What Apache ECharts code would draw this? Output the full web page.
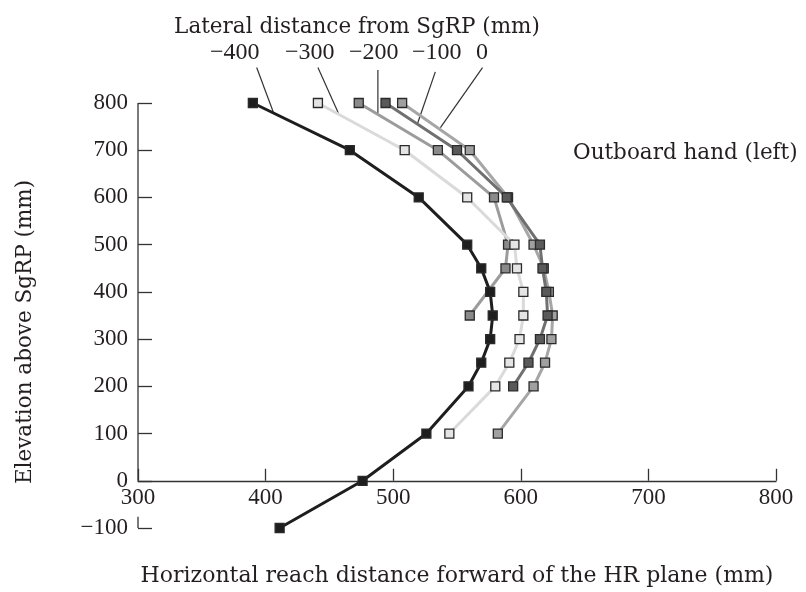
<!DOCTYPE html>
<html>
<head>
<meta charset="utf-8">
<script src="https://cdn.jsdelivr.net/npm/echarts@6/dist/echarts.min.js"></script>
<style>
html,body{margin:0;padding:0;background:#fff;}
#chart{width:806px;height:592px;}
</style>
</head>
<body>
<div id="chart"></div>
<script>
// Data: [horizontal reach (mm), elevation (mm)]
var seriesNames = ['\u2212400', '\u2212300', '\u2212200', '\u2212100', '0'];
var reachM400 = [[390,800],[466,700],[520,600],[558,500],[569,450],[576,400],[578,350],[576,300],[569,250],[559,200],[526,100],[476,0],[411,-100]];
var reachM300 = [[441,800],[509,700],[558,600],[595,500],[597,450],[602,400],[602,350],[599,300],[591,250],[580,200],[544,100]];
var reachM200 = [[473,800],[535,700],[579,600],[590,500],[588,450],[560,350]];
var reachM100 = [[494,800],[550,700],[589,600],[615,500],[617,450],[620,400],[621,350],[615,300],[606,250],[594,200]];
var reach0    = [[507,800],[560,700],[590,600],[610,500],[618,450],[622,400],[625,350],[624,300],[619,250],[610,200],[582,100]];

var xTicks = [300, 400, 500, 600, 700, 800];
var yTicks = [-100, 0, 100, 200, 300, 400, 500, 600, 700, 800];

// leader lines from the lateral-distance labels to each curve (data coords)
var leaderM400 = [[393,875],[406,781]];
var leaderM300 = [[441,875],[457,779]];
var leaderM200 = [[488,870],[488,779]];
var leaderM100 = [[533,866],[519,756]];
var leader0    = [[570,875],[537,748]];

// broken y-axis line pieces
var yAxisMain = [[300,0],[300,800]];
var yAxisStub = [[300,-100],[300,-76]];

var NUMFONT = 'Liberation Serif';
var TXTFONT = 'DejaVu Serif';
var TXT = '#231f20';

function curve(name, data, lineColor, fillColor, width, z) {
  return {
    name: name, type: 'line', data: data, z: z,
    symbol: 'rect', symbolSize: 9,
    lineStyle: {color: lineColor, width: width},
    itemStyle: {color: fillColor, borderColor: '#2a2a2a', borderWidth: 1.3},
    emphasis: {disabled: true},
    animation: false
  };
}
function plainLine(data, color, width) {
  return {
    type: 'line', data: data, symbol: 'none', silent: true, clip: false, z: 1,
    lineStyle: {color: color, width: width}, animation: false
  };
}

var gridTop = 103, gridBottom = 64;
var plotH = 592 - gridTop - gridBottom;
// x axis sits at elevation 0: shift it up by the height of one 100 mm step (of 900)
var xAxisOffset = -plotH * 100 / 900;

var chart = echarts.init(document.getElementById('chart'), null, {renderer: 'canvas'});
var option = {
  backgroundColor: '#fff',
  animation: false,
  title: {
    text: 'Lateral distance from SgRP (mm)',
    left: 352, top: 11, textAlign: 'center',
    textStyle: {fontFamily: TXTFONT, fontSize: 21.5, fontWeight: 'normal', color: TXT}
  },
  grid: {left: 138, right: 30, top: gridTop, bottom: gridBottom, containLabel: false, outerBoundsMode: 'none'},
  xAxis: {
    type: 'value', min: 300, max: 800, interval: 100,
    offset: xAxisOffset,
    name: 'Horizontal reach distance forward of the HR plane (mm)',
    nameLocation: 'middle', nameGap: 85,
    nameTextStyle: {fontFamily: TXTFONT, fontSize: 22, color: TXT},
    axisLine: {onZero: false, lineStyle: {color: '#333', width: 1.3}},
    axisTick: {inside: true, length: 12, lineStyle: {color: '#333', width: 1.3}},
    axisLabel: {fontFamily: NUMFONT, fontSize: 23, color: TXT, margin: 6},
    splitLine: {show: false}
  },
  yAxis: {
    type: 'value', min: -100, max: 800, interval: 100,
    axisLine: {show: false},
    axisTick: {show: true, inside: true, length: 14, lineStyle: {color: '#333', width: 1.3}},
    axisLabel: {
      fontFamily: NUMFONT, fontSize: 23, color: TXT, margin: 10,
      formatter: function (v) { return v < 0 ? '\u2212' + Math.abs(v) : String(v); }
    },
    splitLine: {show: false}
  },
  graphic: [
    {type: 'text', x: 25, y: 332, rotation: Math.PI / 2,
     style: {text: 'Elevation above SgRP (mm)', font: '21.5px "DejaVu Serif"', fill: TXT, textAlign: 'center', textVerticalAlign: 'middle'}},
    {type: 'text', left: 210, top: 41, style: {text: seriesNames[0], font: '24px "Liberation Serif"', fill: TXT}},
    {type: 'text', left: 285, top: 41, style: {text: seriesNames[1], font: '24px "Liberation Serif"', fill: TXT}},
    {type: 'text', left: 349, top: 41, style: {text: seriesNames[2], font: '24px "Liberation Serif"', fill: TXT}},
    {type: 'text', left: 412, top: 41, style: {text: seriesNames[3], font: '24px "Liberation Serif"', fill: TXT}},
    {type: 'text', left: 476, top: 41, style: {text: seriesNames[4], font: '24px "Liberation Serif"', fill: TXT}},
    {type: 'text', left: 573, top: 142, style: {text: 'Outboard hand (left)', font: '21.5px "DejaVu Serif"', fill: TXT}}
  ],
  series: [
    plainLine(yAxisMain, '#333', 1.3),
    plainLine(yAxisStub, '#333', 1.3),
    plainLine(leaderM400, '#333', 1.2),
    plainLine(leaderM300, '#333', 1.2),
    plainLine(leaderM200, '#333', 1.2),
    plainLine(leaderM100, '#333', 1.2),
    plainLine(leader0, '#333', 1.2),
    curve(seriesNames[4], reach0, '#a6a6a6', '#a0a0a0', 3, 3),
    curve(seriesNames[3], reachM100, '#707070', '#5a5a5a', 3, 4),
    curve(seriesNames[2], reachM200, '#9c9c9c', '#8a8a8a', 3, 5),
    curve(seriesNames[1], reachM300, '#dadada', '#e4e4e4', 3, 6),
    curve(seriesNames[0], reachM400, '#1e1e1e', '#1e1e1e', 3, 7)
  ]
};
chart.setOption(option);
</script>
</body>
</html>
